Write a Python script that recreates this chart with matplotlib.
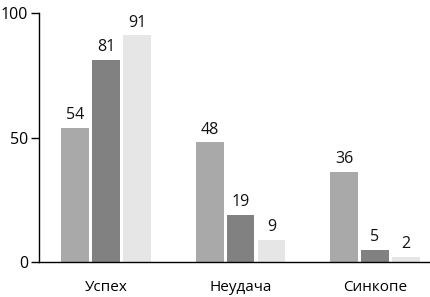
import matplotlib
matplotlib.use("Agg")
import matplotlib.pyplot as plt
import numpy as np

categories = ["Успех", "Неудача", "Синкопе"]
series1 = [54, 48, 36]
series2 = [81, 19, 5]
series3 = [91, 9, 2]
colors = ["#a9a9a9", "#818181", "#e6e6e6"]
yticks = [0, 50, 100]

plt.rcParams['font.family'] = ['Open Sans', 'DejaVu Sans']

fig = plt.figure(figsize=(4.3, 2.97), dpi=100)
ax = fig.add_axes([39/430, 35/297, 1 - 39/430, 249/297])

x = np.arange(len(categories))
w = 0.207
step = 0.23
for i, (vals, c) in enumerate(zip([series1, series2, series3], colors)):
    pos = x + (i - 1) * step
    ax.bar(pos, vals, width=w, color=c)
    for p, v in zip(pos, vals):
        ax.annotate(str(v), (p, v), xytext=(0, 3.5), textcoords="offset points",
                    ha="center", va="bottom", fontsize=11.5, color="#111111")

ax.set_xlim(-0.5, 2.41)
ax.set_ylim(0, 100)
ax.set_yticks(yticks)
ax.set_yticklabels([str(t) for t in yticks], fontsize=11.5)
ax.set_xticks(x)
ax.set_xticklabels(categories, fontsize=11)
ax.tick_params(axis='x', length=0, pad=13)
ax.tick_params(axis='y', length=6, width=1, pad=2, direction='out')
for s in ['top', 'right']:
    ax.spines[s].set_visible(False)
ax.spines['left'].set_linewidth(1)
ax.spines['bottom'].set_linewidth(1)

fig.savefig("out.png", dpi=100)
